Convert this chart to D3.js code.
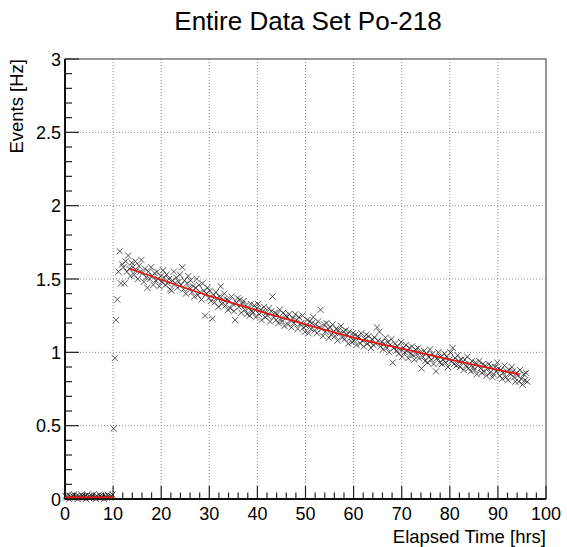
<!doctype html>
<html>
  <head>
    <script src="https://cdnjs.cloudflare.com/ajax/libs/d3/7.8.5/d3.min.js"></script>
    <style>
      body { margin: 0; background: #fff; }
      text { font-family: "Liberation Sans", Arial, Helvetica, sans-serif; fill: #000; }
    </style>
  </head>
  <body>
    <svg width="567" height="547"></svg>
    <script>
        // time bins are 0.25 hrs wide, first bin centred at 0.125 hrs
        var binHours = 0.25;

        // event rate per bin [Hz] (before the source was in)
        var rateBackground = [
            0.02,0.01,0.03,0.00,0.02,0.01,0.02,0.03,0.01,0.02,
            0.00,0.02,0.01,0.03,0.02,0.01,0.02,0.00,0.03,0.01,
            0.02,0.01,0.02,0.03,0.01,0.00,0.02,0.01,0.03,0.02,
            0.01,0.02,0.00,0.02,0.01,0.03,0.02,0.01,0.02,0.03
        ];
        // ramp up at ~10 hrs
        var rateRamp = [0.48, 0.96, 1.22, 1.36];
        // decay from 11 hrs on, four bins per row
        var rateDecay = [
            1.55,1.69,1.47,1.60, 1.58,1.47,1.62,1.55, 1.66,1.57,1.52,1.61, 1.58,1.53,1.62,1.56,
            1.50,1.59,1.55,1.63, 1.54,1.48,1.57,1.51, 1.44,1.55,1.50,1.58, 1.52,1.46,1.54,1.49,
            1.55,1.50,1.45,1.52, 1.48,1.56,1.51,1.46, 1.53,1.47,1.50,1.43, 1.42,1.49,1.55,1.47,
            1.51,1.44,1.48,1.53, 1.46,1.58,1.43,1.49, 1.40,1.47,1.52,1.44, 1.49,1.41,1.45,1.38,
            1.44,1.50,1.39,1.46, 1.41,1.36,1.47,1.42, 1.25,1.40,1.44,1.37, 1.42,1.35,1.23,1.39,
            1.34,1.41,1.37,1.31, 1.38,1.45,1.33,1.36, 1.40,1.32,1.36,1.29, 1.35,1.30,1.38,1.33,
            1.28,1.22,1.34,1.37, 1.31,1.36,1.27,1.33, 1.35,1.29,1.32,1.26, 1.30,1.25,1.33,1.28,
            1.27,1.32,1.24,1.30, 1.33,1.26,1.29,1.22, 1.28,1.31,1.24,1.27, 1.25,1.30,1.21,1.28,
            1.38,1.24,1.27,1.22, 1.26,1.20,1.29,1.23, 1.21,1.27,1.18,1.25, 1.24,1.19,1.26,1.22,
            1.17,1.23,1.20,1.26, 1.22,1.16,1.24,1.19, 1.20,1.25,1.17,1.14, 1.18,1.22,1.13,1.21,
            1.16,1.20,1.24,1.15, 1.19,1.13,1.21,1.17, 1.29,1.16,1.11,1.19, 1.14,1.20,1.16,1.10,
            1.17,1.12,1.19,1.14, 1.11,1.16,1.08,1.15, 1.13,1.18,1.10,1.14, 1.09,1.15,1.12,1.06,
            1.14,1.10,1.07,1.13, 1.08,1.12,1.05,1.11, 1.10,1.06,1.13,1.08, 1.04,1.09,1.12,1.06,
            1.11,1.07,1.03,1.09, 1.05,1.10,1.06,1.17, 1.08,1.14,1.04,1.07, 1.02,1.06,1.10,1.03,
            1.07,1.00,1.05,1.09, 0.93,1.03,1.06,1.01, 1.04,0.99,1.02,1.07, 0.97,1.03,1.00,1.05,
            1.01,0.96,1.03,0.99, 1.04,0.98,0.95,1.02, 0.99,1.03,0.96,1.00, 0.89,0.97,1.01,0.94,
            0.99,0.93,0.97,1.02, 0.95,0.99,0.92,0.97, 0.87,0.96,1.00,0.93, 0.97,0.92,0.95,0.99,
            0.93,0.97,0.90,0.95, 1.00,0.94,1.03,0.92, 0.96,0.91,0.98,0.94, 0.90,0.95,0.93,0.88,
            0.95,0.91,0.97,0.89, 0.92,0.87,0.94,0.90, 0.88,0.93,0.85,0.91, 0.94,0.89,0.86,0.92,
            0.87,0.91,0.84,0.89, 0.92,0.86,0.90,0.83, 0.85,0.90,0.87,0.93, 0.89,0.84,0.88,0.82,
            0.86,0.91,0.83,0.87, 0.81,0.88,0.85,0.90, 0.87,0.83,0.80,0.86, 0.84,0.80,0.88,0.82,
            0.78,0.85,0.81,0.86, 0.80
        ];

        // red fit curves
        var fitFlatX = [0, 10];
        var fitFlatY = [0.012, 0.012];
        var fitDecayX = [13.5, 20, 30, 40, 50, 60, 70, 80, 90, 94.5];
        var fitDecayY = [1.57, 1.495, 1.385, 1.285, 1.19, 1.10, 1.025, 0.95, 0.88, 0.85];

        var xTicks = [0, 10, 20, 30, 40, 50, 60, 70, 80, 90, 100];
        var yTicks = [0, 0.5, 1, 1.5, 2, 2.5, 3];

        drawChart();

        function drawChart() {
            var rates = rateBackground.concat(rateRamp, rateDecay);
            var points = rates.map((r, i) => ({t: (i + 0.5) * binHours, r: r}));

            var svg = d3.select("svg");
            var padL = 65, padR = 546, padT = 59, padB = 499;

            var x = d3.scaleLinear().domain([0, 100]).range([padL, padR]);
            var y = d3.scaleLinear().domain([0, 3]).range([padB, padT]);

            // dotted grid
            svg.append("g").selectAll("line")
                .data(xTicks.slice(1, -1))
                .enter().append("line")
                    .attr("x1", d => x(d)).attr("x2", d => x(d))
                    .attr("y1", padT).attr("y2", padB)
                    .attr("stroke", "#8a8a8a").attr("stroke-dasharray", "1,2");
            svg.append("g").selectAll("line")
                .data(yTicks.slice(1, -1))
                .enter().append("line")
                    .attr("x1", padL).attr("x2", padR)
                    .attr("y1", d => y(d)).attr("y2", d => y(d))
                    .attr("stroke", "#8a8a8a").attr("stroke-dasharray", "1,2");

            // frame
            svg.append("rect")
                .attr("x", padL).attr("y", padT)
                .attr("width", padR - padL).attr("height", padB - padT)
                .attr("fill", "none").attr("stroke", "#555").attr("stroke-width", 1.2);

            // ticks, inward like ROOT
            var xMinor = d3.range(0, 101, 2);
            var yMinor = d3.range(0, 31, 1).map(d => d / 10);
            svg.append("g").selectAll("line")
                .data(xMinor)
                .enter().append("line")
                    .attr("x1", d => x(d)).attr("x2", d => x(d))
                    .attr("y1", padB).attr("y2", d => padB - (d % 10 === 0 ? 13 : 6.5))
                    .attr("stroke", "#222").attr("stroke-width", 1.2);
            svg.append("g").selectAll("line")
                .data(yMinor)
                .enter().append("line")
                    .attr("x1", padL).attr("x2", (d, i) => padL + (i % 5 === 0 ? 14 : 7))
                    .attr("y1", d => y(d)).attr("y2", d => y(d))
                    .attr("stroke", "#222").attr("stroke-width", 1.2);

            // axis lines
            svg.append("line").attr("x1", padL).attr("x2", padL).attr("y1", padT).attr("y2", padB)
                .attr("stroke", "#111").attr("stroke-width", 2);
            svg.append("line").attr("x1", padL).attr("x2", padR).attr("y1", padB).attr("y2", padB)
                .attr("stroke", "#111").attr("stroke-width", 2);

            // tick labels
            svg.append("g").selectAll("text")
                .data(xTicks)
                .enter().append("text")
                    .attr("x", d => x(d)).attr("y", 520)
                    .attr("text-anchor", "middle").attr("font-size", 18)
                    .text(d => d);
            svg.append("g").selectAll("text")
                .data(yTicks)
                .enter().append("text")
                    .attr("x", 61).attr("y", d => y(d) + 6.5)
                    .attr("text-anchor", "end").attr("font-size", 18)
                    .text(d => d);

            // data points as x markers
            var s = 3.1;
            svg.append("g").selectAll("path")
                .data(points)
                .enter().append("path")
                    .attr("d", d => {
                        var px = x(d.t), py = y(d.r);
                        return "M" + (px - s) + "," + (py - s) + "L" + (px + s) + "," + (py + s) +
                               "M" + (px - s) + "," + (py + s) + "L" + (px + s) + "," + (py - s);
                    })
                    .attr("stroke", "#1a1a1a").attr("stroke-width", 1)
                    .attr("stroke-opacity", 0.72).attr("fill", "none");

            // fits
            var line = d3.line().x(d => x(d[0])).y(d => y(d[1])).curve(d3.curveMonotoneX);
            svg.append("path")
                .attr("d", line(d3.zip(fitFlatX, fitFlatY)))
                .attr("fill", "none").attr("stroke", "#d81a1a").attr("stroke-width", 2);
            svg.append("path")
                .attr("d", line(d3.zip(fitDecayX, fitDecayY)))
                .attr("fill", "none").attr("stroke", "#e01818").attr("stroke-width", 1.8);

            // titles
            svg.append("text").attr("x", 308).attr("y", 30)
                .attr("text-anchor", "middle").attr("font-size", 26)
                .text("Entire Data Set Po-218");
            svg.append("text").attr("x", padR).attr("y", 543)
                .attr("text-anchor", "end").attr("font-size", 18.5)
                .text("Elapsed Time [hrs]");
            svg.append("text")
                .attr("transform", "translate(23," + padT + ") rotate(-90)")
                .attr("text-anchor", "end").attr("font-size", 18.5)
                .text("Events [Hz]");
        }
    </script>
  </body>
</html>
